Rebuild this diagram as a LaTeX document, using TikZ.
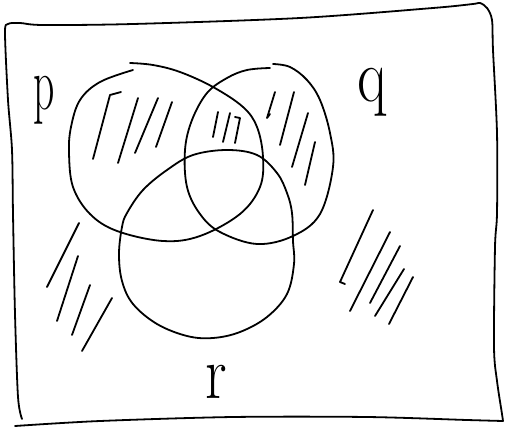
\documentclass[tikz,border=0pt]{standalone}
\begin{document}
\begin{tikzpicture}[x=1pt,y=-1pt,
  ink/.style={line width=1.8pt,line cap=round,line join=round,black},
  lbl/.style={font=\fontsize{76}{76}\selectfont,anchor=base,inner sep=0pt}]
\useasboundingbox (0,0) rectangle (506,428);
% frame
\draw[ink] plot[smooth,tension=0.5] coordinates {(22,419) (18,397) (15,314) (13,214) (12,150) (8,100) (5,33) (8,24) (20,23) (43,25) (133,24) (300,18) (433,8) (473,4) (480,3) (487,8) (492,20) (493,50) (497,133) (497,213) (495,247) (494,347) (497,381) (502,414) (503,421)};
\draw[ink] plot[smooth,tension=0.5] coordinates {(15,426) (100,421) (233,417) (367,417) (467,420) (503,421)};
% circle p
\draw[ink] plot[smooth,tension=0.6] coordinates {(133,70) (100,82) (80,100) (71,127) (69,153) (73,187) (90,214) (117,231) (163,241) (200,236) (240,214) (260,187) (263,157) (257,127) (243,107) (213,87) (180,72) (153,65) (130,63)};
% circle q
\draw[ink] plot[smooth,tension=0.6] coordinates {(270,68) (247,70) (227,78) (207,93) (192,120) (185,150) (187,187) (200,214) (220,232) (257,244) (293,236) (320,214) (333,167) (330,133) (320,100) (307,80) (290,67) (273,64)};
% circle r
\draw[ink] plot[smooth cycle,tension=0.6] coordinates {(143,190) (167,170) (193,155) (227,150) (257,155) (277,173) (287,193) (292,213) (293,241) (294,264) (287,294) (267,317) (240,332) (213,338) (187,336) (157,324) (133,304) (122,281) (119,254) (122,227) (127,213)};
% hatching in p
\draw[ink] (121,92) -- (110,95) -- (93,159);
\draw[ink] (138,98) -- (118,163);
\draw[ink] (158,98) -- (135,153);
\draw[ink] (172,102) -- (156,147);
% hatching in p and q
\draw[ink] (218,112) -- (213,137);
\draw[ink] (230,113) -- (223,142);
\draw[ink] (235,117) -- (240,118) -- (235,143);
% hatching in q
\draw[ink] (275,92) -- (267,118) -- (270,114);
\draw[ink] (294,92) -- (280,145);
\draw[ink] (308,113) -- (292,167);
\draw[ink] (315,142) -- (305,185);
% hatching outside, left
\draw[ink] (79,223) -- (47,287);
\draw[ink] (78,256) -- (57,321);
\draw[ink] (90,285) -- (72,335);
\draw[ink] (112,298) -- (82,351);
% hatching outside, right
\draw[ink] (373,210) -- (340,282) -- (345,284);
\draw[ink] (390,232) -- (350,311);
\draw[ink] (400,246) -- (370,303);
\draw[ink] (404,269) -- (375,316);
\draw[ink] (413,277) -- (389,324);
% labels
\node[lbl,xscale=0.55] (p) at (44,110) {p};
\node[lbl,xscale=0.8] (q) at (372,102) {q};
\node[lbl,xscale=0.8] (r) at (216,398) {r};
\end{tikzpicture}
\end{document}
